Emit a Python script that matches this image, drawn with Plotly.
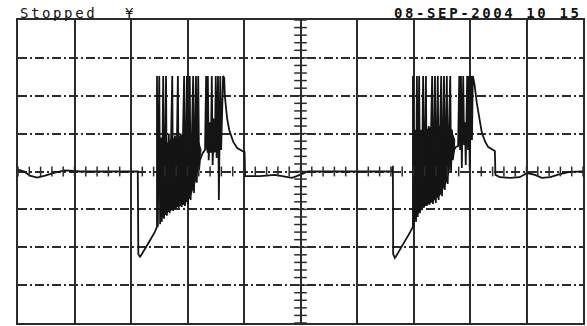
import numpy as np
import plotly.graph_objects as go

# ---- data (screen divisions: time 0..10, level -4..4) ----
full = 2.52

pre1_t = [0.00, 0.11, 0.21, 0.34, 0.48, 0.65, 0.83, 1.10, 2.12, 2.13, 2.16, 2.25, 2.34, 2.42, 2.46]
pre1_v = [0.05, 0.00, -0.11, -0.16, -0.11, -0.03, 0.03, 0.00, 0.00, -2.18, -2.26, -2.05, -1.81, -1.60, -1.46]

b1g1_t = [2.46, 2.50, 2.53, 2.57, 2.62, 2.67, 2.73, 2.78, 2.83, 2.88, 2.94, 2.99, 3.04, 3.10, 3.15, 3.19]
b1g1_peak = [2.52, 2.52, 0.90, 2.52, 2.52, 1.00, 2.52, 0.95, 2.52, 1.00, 2.52, 2.52, 2.52, 2.52, 2.52, 2.52]
b1g1_trough = [-1.46, -1.39, -1.33, -1.25, -1.17, -1.10, -1.04, -0.99, -0.96, -0.94, -0.91, -0.86, -0.75, -0.57, -0.30, 0.04]

mid1_t = [3.22, 3.27, 3.31]
mid1_v = [0.30, 0.49, 0.57]

b1g2_t = [3.33, 3.36, 3.40, 3.43, 3.47, 3.50, 3.54, 3.58]
b1g2_peak = [2.52, 2.52, 1.30, 2.52, 1.40, 2.52, 2.52, 2.52]
b1g2_trough = [0.57, 0.30, 0.62, 0.17, 0.51, 0.36, -0.75, 0.57]

post1_t = [3.63, 3.65, 3.66, 3.70, 3.74, 3.81, 3.88, 3.97, 4.01, 4.02, 4.28, 4.55, 4.73, 4.85, 4.99, 5.13]
post1_v = [2.52, 2.47, 2.02, 1.41, 1.09, 0.78, 0.62, 0.54, 0.51, -0.12, -0.12, -0.09, -0.15, -0.17, -0.09, 0.00]

pre2_t = [6.62, 6.63, 6.635, 6.64, 6.67, 6.69, 6.76, 6.85, 6.94, 6.99]
pre2_v = [0.00, 0.15, 0.15, -2.18, -2.28, -2.24, -2.07, -1.83, -1.60, -1.46]

b2g1_t = [6.99, 7.03, 7.06, 7.10, 7.13, 7.17, 7.22, 7.27, 7.33, 7.38, 7.43, 7.49, 7.54, 7.59, 7.65, 7.68]
b2g1_peak = [2.52, 1.10, 2.52, 2.52, 1.10, 2.52, 2.52, 1.20, 2.52, 2.52, 2.52, 2.52, 2.52, 2.52, 2.52, 1.10]
b2g1_trough = [-1.46, -1.33, -1.20, -1.10, -1.02, -0.96, -0.91, -0.88, -0.86, -0.83, -0.75, -0.65, -0.49, -0.33, -0.01, 0.30]

mid2_t = [7.72, 7.75, 7.79]
mid2_v = [0.57, 0.65, 0.67]

b2g2_t = [7.81, 7.84, 7.88, 7.91, 7.95, 7.98, 8.02]
b2g2_peak = [2.52, 2.52, 2.52, 1.30, 2.52, 2.52, 2.52]
b2g2_trough = [0.57, 0.09, 0.70, 0.17, 0.57, 0.04, 0.83]

post2_t = [8.05, 8.08, 8.12, 8.16, 8.21, 8.27, 8.32, 8.41, 8.44, 8.45, 8.53, 8.71, 8.88, 9.01, 9.15, 9.27, 9.42, 9.59, 9.77, 10.0]
post2_v = [2.52, 2.30, 1.81, 1.49, 1.02, 0.78, 0.65, 0.57, 0.54, -0.09, -0.15, -0.17, -0.15, -0.04, -0.09, -0.17, -0.15, -0.07, -0.01, 0.00]

# dense (overlapping ink) regions of the bursts
dense1_t = [2.55, 2.69, 2.87, 3.04, 3.17, 3.24, 3.20, 3.13, 3.04, 2.94, 2.80, 2.65, 2.55]
dense1_v = [0.57, 0.83, 0.94, 0.99, 0.91, 0.57, 0.17, -0.30, -0.70, -0.86, -0.94, -1.07, -1.23]
dense1b_t = [3.34, 3.47, 3.58, 3.58, 3.47, 3.34]
dense1b_v = [1.15, 1.30, 1.25, 0.62, 0.51, 0.51]
dense2_t = [6.99, 7.12, 7.29, 7.47, 7.65, 7.73, 7.72, 7.65, 7.58, 7.47, 7.33, 7.17, 7.06, 6.99]
dense2_v = [0.83, 1.02, 1.15, 1.20, 1.17, 0.83, 0.57, 0.17, -0.28, -0.62, -0.80, -0.94, -1.15, -1.39]

title_left = "Stopped"
trig_mark = "¥"
title_right = "08-SEP-2004 10 15"


def burst(times, peaks, troughs, width=0.015):
    xs, ys = [], []
    for t, pk, tr in zip(times, peaks, troughs):
        xs += [t, t + width]
        ys += [pk, tr]
    return xs, ys


wx, wy = [], []
for seg in [(pre1_t, pre1_v), burst(b1g1_t, b1g1_peak, b1g1_trough), (mid1_t, mid1_v),
            burst(b1g2_t, b1g2_peak, b1g2_trough), (post1_t, post1_v), (pre2_t, pre2_v),
            burst(b2g1_t, b2g1_peak, b2g1_trough), (mid2_t, mid2_v),
            burst(b2g2_t, b2g2_peak, b2g2_trough), (post2_t, post2_v)]:
    wx += list(seg[0])
    wy += list(seg[1])

ink = "#141414"
grid = "#2b2b2b"

fig = go.Figure()

for dt, dv in [(dense1_t, dense1_v), (dense1b_t, dense1b_v), (dense2_t, dense2_v)]:
    fig.add_trace(go.Scatter(x=dt, y=dv, fill="toself", fillcolor=ink, mode="lines",
                             line=dict(color=ink, width=1), hoverinfo="skip"))

fig.add_trace(go.Scatter(x=wx, y=wy, mode="lines", line=dict(color=ink, width=1.8),
                         hoverinfo="skip"))

# centre graticule minor ticks
minor = np.round(np.arange(-4, 4.001, 0.2), 3)
fig.add_trace(go.Scatter(x=[5] * len(minor), y=minor, mode="markers",
                         marker=dict(symbol="line-ew", size=9, line=dict(color=grid, width=1.5)),
                         hoverinfo="skip", cliponaxis=False))
minor_x = np.round(np.arange(0, 10.001, 0.2), 3)
fig.add_trace(go.Scatter(x=minor_x, y=[0] * len(minor_x), mode="markers",
                         marker=dict(symbol="line-ns", size=7, line=dict(color=grid, width=1.5)),
                         hoverinfo="skip", cliponaxis=False))
# channel ground marker
fig.add_trace(go.Scatter(x=[-0.07], y=[0.04], mode="markers",
                         marker=dict(symbol="triangle-right", size=6, color=ink),
                         hoverinfo="skip", cliponaxis=False))

fig.update_xaxes(range=[0, 10], dtick=1, tick0=0, showgrid=True, gridcolor=grid, gridwidth=1.5,
                 showticklabels=False, ticks="", zeroline=False, showline=True, linecolor=grid,
                 linewidth=1.5, mirror=True)
fig.update_yaxes(range=[-4, 4], dtick=1, tick0=0, showgrid=True, gridcolor=grid, gridwidth=1.5,
                 griddash="9px,3px,2px,3px", showticklabels=False, ticks="", zeroline=False,
                 showline=True, linecolor=grid, linewidth=1.5, mirror=True)

font = dict(family="DejaVu Sans Mono", size=14, color="#111111")
sp = '<span style="letter-spacing:2.6px">{}</span>'
fig.add_annotation(text=sp.format(title_left), xref="paper", yref="paper", x=0, y=1,
                   xanchor="left", yanchor="bottom", showarrow=False, font=font, yshift=-3)
fig.add_annotation(text=trig_mark, xref="paper", yref="paper", x=0.186, y=1,
                   xanchor="left", yanchor="bottom", showarrow=False, font=font, yshift=-3)
fig.add_annotation(text="<b>" + sp.format(title_right) + "</b>", xref="paper", yref="paper",
                   x=0.662, y=1, xanchor="left", yanchor="bottom", showarrow=False,
                   font=font, yshift=-3)

fig.update_layout(width=587, height=326, margin=dict(l=18, r=4, t=20, b=3, pad=0),
                  plot_bgcolor="white", paper_bgcolor="white", showlegend=False)

fig.write_html("out.html")
